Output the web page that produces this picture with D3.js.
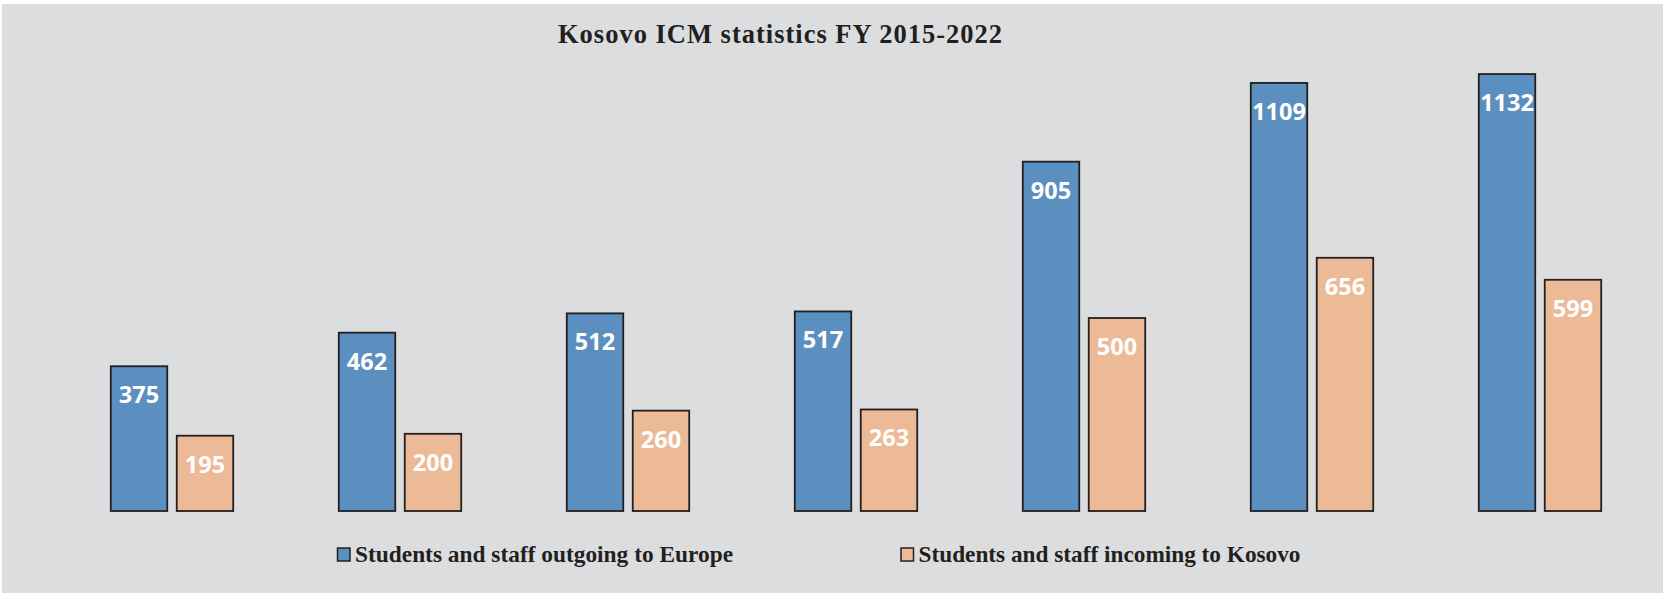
<!DOCTYPE html>
<html>
<head>
<meta charset="utf-8">
<script src="https://cdn.jsdelivr.net/npm/d3@7"></script>
<style>
  html, body { margin: 0; padding: 0; background: #ffffff; }
  svg { display: block; }
</style>
</head>
<body>
<div id="chart"></div>
<script>
// chart values
var years = ["2015/16", "2016/17", "2017/18", "2018/19", "2019/20", "2020/21", "2021/22"];
var outgoing = [375, 462, 512, 517, 905, 1109, 1132];
var incoming = [195, 200, 260, 263, 500, 656, 599];
var seriesNames = ["Students and staff outgoing to Europe", "Students and staff incoming to Kosovo"];
var seriesColors = ["#5a8fc0", "#edba98"];

var width = 1663, height = 593;
var baseline = 511;

var svg = d3.select('#chart').append('svg')
    .attr('width', width)
    .attr('height', height);

// grey plot background with the thin white edge on top and left
svg.append('rect')
    .attr('x', 2).attr('y', 4)
    .attr('width', width - 2).attr('height', height - 4)
    .attr('fill', '#dcdddf');

svg.append('text')
    .attr('x', 558).attr('y', 43)
    .attr('font-family', '"Liberation Serif", "Times New Roman", serif')
    .attr('font-weight', 'bold')
    .attr('font-size', 26.5)
    .attr('fill', '#231f20')
    .attr('textLength', 444)
    .attr('lengthAdjust', 'spacing')
    .text('Kosovo ICM statistics FY 2015-2022');

var x0 = d3.scaleBand()
    .domain(years)
    .range([58, 1654])
    .paddingInner(0.463)
    .paddingOuter(0.2315);

var x1 = d3.scaleBand()
    .domain([0, 1])
    .range([0, x0.bandwidth()])
    .paddingInner(0.144);

var y = d3.scaleLinear()
    .domain([0, 1300])
    .range([baseline, baseline - 0.386 * 1300]);

var rows = years.map(function (yr, i) {
    return {year: yr, values: [outgoing[i], incoming[i]]};
});

var g = svg.selectAll('.group')
    .data(rows)
    .enter().append('g')
    .attr('class', 'group')
    .attr('transform', function (d) { return 'translate(' + x0(d.year) + ',0)'; });

var bar = g.selectAll('.bar')
    .data(function (d) { return d.values.map(function (v, k) { return {k: k, v: v}; }); })
    .enter().append('g')
    .attr('class', 'bar');

bar.append('rect')
    .attr('x', function (d) { return x1(d.k); })
    .attr('y', function (d) { return y(d.v); })
    .attr('width', x1.bandwidth())
    .attr('height', function (d) { return y(0) - y(d.v); })
    .attr('fill', function (d) { return seriesColors[d.k]; })
    .attr('stroke', '#231f20')
    .attr('stroke-width', 1.8);

bar.append('text')
    .attr('x', function (d) { return x1(d.k) + x1.bandwidth() / 2; })
    .attr('y', function (d) { return y(d.v) + 37; })
    .attr('text-anchor', 'middle')
    .attr('font-family', '"Open Sans", "Noto Sans", sans-serif')
    .attr('font-weight', 'bold')
    .attr('font-size', 23.5)
    .attr('fill', '#ffffff')
    .text(function (d) { return d.v; });

// legend
var legendX = [337.5, 901];
var legend = svg.selectAll('.legend')
    .data(seriesNames)
    .enter().append('g')
    .attr('class', 'legend')
    .attr('transform', function (d, i) { return 'translate(' + legendX[i] + ',548)'; });

legend.append('rect')
    .attr('width', 12.5).attr('height', 13)
    .attr('fill', function (d, i) { return seriesColors[i]; })
    .attr('stroke', '#231f20')
    .attr('stroke-width', 1.5);

legend.append('text')
    .attr('x', 17.5)
    .attr('y', 14.3)
    .attr('font-family', '"Liberation Serif", "Times New Roman", serif')
    .attr('font-weight', 'bold')
    .attr('font-size', 23)
    .attr('fill', '#231f20')
    .attr('textLength', function (d, i) { return i === 0 ? 378 : 382; })
    .attr('lengthAdjust', 'spacingAndGlyphs')
    .text(function (d) { return d; });
</script>
</body>
</html>
